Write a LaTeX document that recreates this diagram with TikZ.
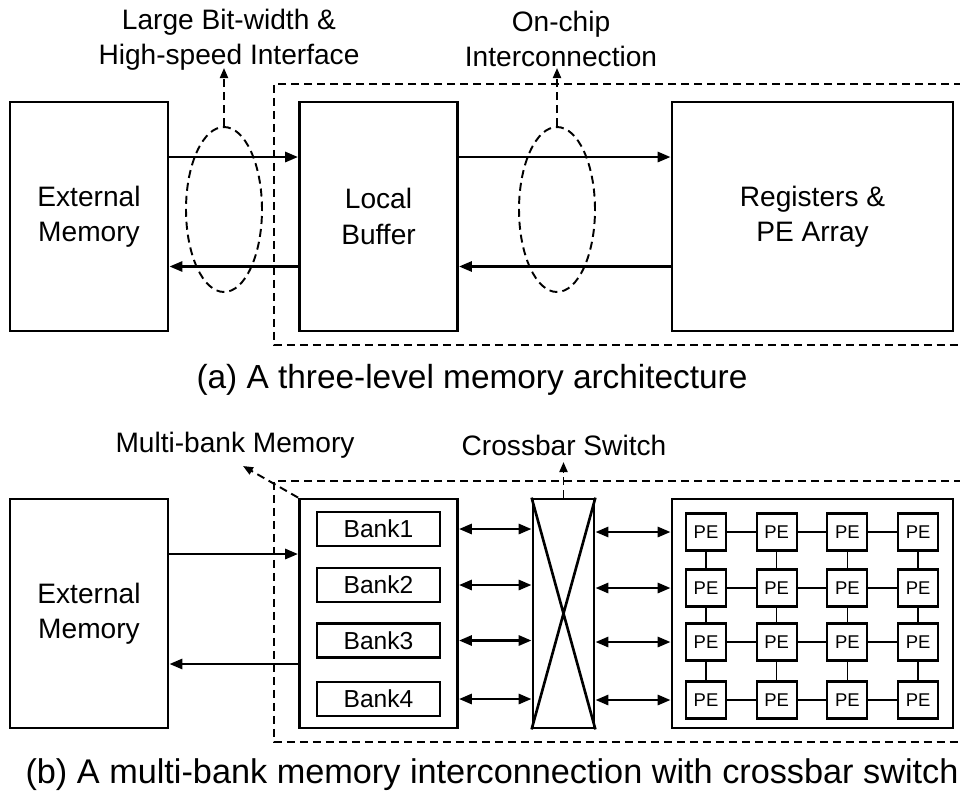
\documentclass[tikz,border=0pt]{standalone}
\usepackage{fontspec}
\setmainfont{Liberation Sans}
\usepackage{tikz}
\usetikzlibrary{positioning, arrows.meta, shapes.geometric}

\begin{document}
\begin{tikzpicture}[x=0.02cm, y=-0.02cm,
    every node/.style={font=\fontsize{16}{20}\selectfont},
    blk/.style={draw, line width=1.6pt, minimum width=3.16cm, minimum height=4.58cm, align=center, inner sep=0pt},
    bank/.style={draw, line width=1.3pt, minimum width=2.46cm, minimum height=0.68cm, inner sep=0pt, font=\fontsize{14}{16}\selectfont},
    pe/.style={draw, line width=1.2pt, minimum width=0.8cm, minimum height=0.74cm, inner sep=0pt, font=\fontsize{10.5}{12}\selectfont},
    loop/.style={draw, ellipse, line width=1.1pt, dash pattern=on 0.16cm off 0.1cm, minimum width=1.52cm, minimum height=3.3cm, inner sep=0pt},
    dashbox/.style={line width=1.1pt, dash pattern=on 0.16cm off 0.1cm},
    arr/.style={line width=1.6pt, -{Triangle[length=0.26cm, width=0.2cm]}},
    dbl/.style={line width=1.6pt, {Triangle[length=0.26cm, width=0.2cm]}-{Triangle[length=0.26cm, width=0.2cm]}},
    dasharr/.style={line width=1.1pt, dash pattern=on 0.16cm off 0.1cm, -{Triangle[length=0.2cm, width=0.16cm]}}]
    \useasboundingbox (0,0) rectangle (960,799);

    % (a) three-level memory
    \draw[dashbox] (975,84) -| (274,345) -- (975,345);
    \node[blk] (ext1) at (89,216.5) {External\\Memory};
    \node[blk] (buf) at (378.5,216.5) {Local\\Buffer};
    \node[blk, minimum width=5.62cm] (reg) at (812.5,216.5) {Registers \&\\PE Array};
    \draw[arr] ([yshift=1.19cm]ext1.east) -- ([yshift=1.19cm]buf.west);
    \draw[arr] ([yshift=-1.0cm]buf.west) -- ([yshift=-1.0cm]ext1.east);
    \draw[arr] ([yshift=1.19cm]buf.east) -- ([yshift=1.19cm]reg.west);
    \draw[arr] ([yshift=-1.0cm]reg.west) -- ([yshift=-1.0cm]buf.east);
    \node[loop] (iface) at (224,209.5) {};
    \node[loop] (onchip) at (557,209.5) {};
    \node[align=center, inner sep=0pt] (lblA) at (229,40) {Large Bit-width \&\\High-speed Interface};
    \node[align=center, inner sep=0pt] (lblB) at (561,39) {On-chip\\Interconnection};
    \coordinate (tipA) at (224,68);
    \coordinate (tipB) at (557,68);
    \draw[dasharr] (iface.north) -- (tipA);
    \draw[dasharr] (onchip.north) -- (tipB);
    \node[font=\fontsize{19}{23}\selectfont] (capa) at (472,380) {(a) A three-level memory architecture};

    % (b) multi-bank memory with crossbar
    \draw[dashbox] (975,481) -| (274,742) -- (975,742);
    \node[blk] (ext2) at (89,613.5) {External\\Memory};
    \node[blk] (mbm) at (378.5,613.5) {};
    \node[blk, minimum width=1.22cm] (xbar) at (563.5,613.5) {};
    \draw[line width=1.5pt] (xbar.north west) -- (xbar.south east)
                            (xbar.north east) -- (xbar.south west);
    \node[blk, minimum width=5.62cm] (pea) at (812.5,613.5) {};
    \draw[arr] ([yshift=1.19cm]ext2.east) -- ([yshift=1.19cm]mbm.west);
    \draw[arr] ([yshift=-1.01cm]mbm.west) -- ([yshift=-1.01cm]ext2.east);

    \foreach \i/\yy in {1/529,2/585,3/640.5,4/699} {
        \node[bank] (bank\i) at (378.5,\yy) {Bank\i};
        \draw[dbl] (mbm.east |- bank\i) -- (xbar.west |- bank\i);
    }

    \foreach \r/\yy in {1/532,2/588,3/642,4/700} {
        \foreach \c in {1,...,4}
            \node[pe] (pe\r\c) at ({635.3+70.7*\c},\yy) {PE};
        \draw[dbl] (xbar.east |- pe\r1) -- (pea.west |- pe\r1);
    }
    \foreach \r in {1,...,4} {
        \foreach \c [evaluate=\c as \n using int(\c+1)] in {1,2,3} {
            \draw[line width=0.8pt] (pe\r\c) -- (pe\r\n);
            \draw[line width=0.8pt] (pe\c\r) -- (pe\n\r);
        }
    }

    \node (lblM) at (235,445) {Multi-bank Memory};
    \node (lblX) at (564,445) {Crossbar Switch};
    \coordinate (tipM) at (243,466);
    \coordinate (tipX) at (563.5,462);
    \draw[dasharr] (mbm.north west) -- (tipM);
    \draw[dasharr] (xbar.north) -- (tipX);
    \node[font=\fontsize{19.5}{23}\selectfont] (capb) at (492,775) {(b) A multi-bank memory interconnection with crossbar switch};
\end{tikzpicture}
\end{document}
